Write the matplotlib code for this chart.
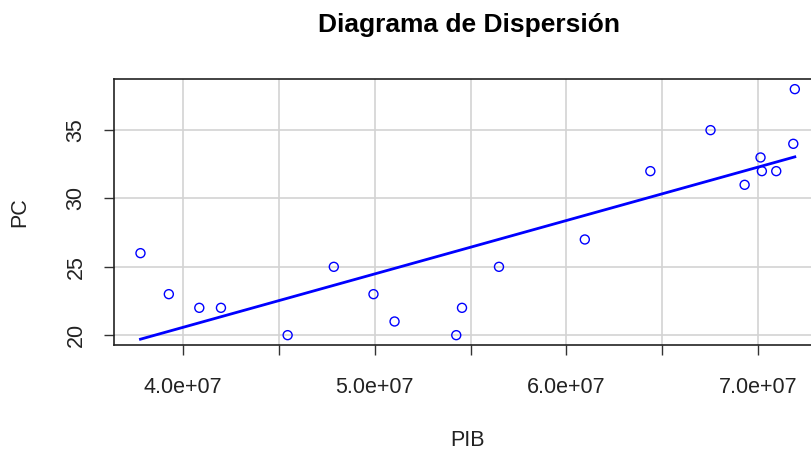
import matplotlib.pyplot as plt
import numpy as np

plt.rcParams['font.family'] = ['Liberation Sans', 'DejaVu Sans']

pib = np.array([3.777e7, 3.925e7, 4.084e7, 4.197e7, 4.545e7, 4.786e7, 4.993e7,
                5.103e7, 5.425e7, 5.455e7, 5.648e7, 6.096e7, 6.438e7, 6.752e7,
                6.930e7, 7.013e7, 7.020e7, 7.095e7, 7.184e7, 7.192e7])
pc = np.array([26, 23, 22, 22, 20, 25, 23, 21, 20, 22, 25, 27, 32, 35,
               31, 33, 32, 32, 34, 38])

xticks = np.arange(4.0e7, 7.01e7, 0.5e7)
xlabels = ['4.0e+07', '', '5.0e+07', '', '6.0e+07', '', '7.0e+07']
yticks = [20, 25, 30, 35]


def main():
    fig = plt.figure(figsize=(8.11, 4.5), dpi=100)
    # la caja sigue a la derecha fuera de la imagen
    ax = fig.add_axes([114.3 / 811, 1 - 345 / 450, (821 - 114.3) / 811, (345 - 79.3) / 450])

    for t in xticks:
        ax.axvline(t, color='#D3D3D3', lw=1.2, zorder=0)
    for t in yticks:
        ax.axhline(t, color='#D3D3D3', lw=1.2, zorder=0)

    ax.scatter(pib, pc, s=42, facecolors='none', edgecolors='blue', linewidths=1.0, zorder=3)

    coef = np.polyfit(pib, pc, 1)
    xs = np.sort(pib)
    ax.plot(xs, np.polyval(coef, xs), color='blue', lw=2, zorder=2)

    xr = pib.max() - pib.min()
    yr = pc.max() - pc.min()
    ax.set_xlim(pib.min() - 0.04 * xr, pib.max() + 0.04 * xr)
    ax.set_ylim(pc.min() - 0.04 * yr, pc.max() + 0.04 * yr)

    ax.set_xticks(xticks)
    ax.set_xticklabels(xlabels)
    ax.set_yticks(yticks)
    ax.set_yticklabels([str(t) for t in yticks], rotation=90, va='center')
    ax.tick_params(length=7, width=1, color='#333333', labelsize=15.5, labelcolor='#222222')
    ax.tick_params(axis='x', pad=16)
    ax.tick_params(axis='y', pad=13)
    for s in ax.spines.values():
        s.set_color('#222222')
        s.set_linewidth(1.2)

    fig.text(469 / 811, 1 - 25 / 450, 'Diagrama de Dispersión', ha='center', va='center',
             fontsize=19, fontweight='bold')
    fig.text(467 / 811, 1 - 440 / 450, 'PIB', ha='center', va='center', fontsize=15.5, color='#222222')
    fig.text(20 / 811, 1 - 212 / 450, 'PC', ha='center', va='center', fontsize=15.5,
             rotation=90, color='#222222')

    fig.savefig('out.png', dpi=100)


if __name__ == "__main__":
    main()
